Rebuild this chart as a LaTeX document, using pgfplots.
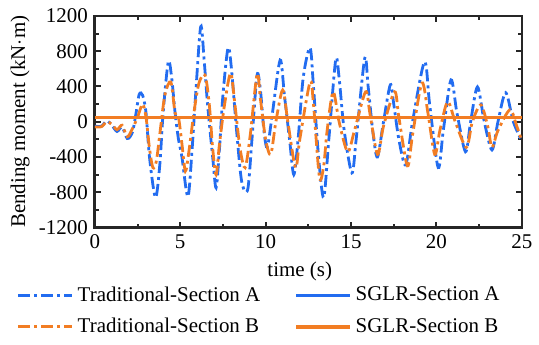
\documentclass[border=0pt]{standalone}
\usepackage{fontspec}
\setmainfont{Liberation Serif}
\usepackage{pgfplots}
\pgfplotsset{compat=1.18}
\usetikzlibrary{calc}
\definecolor{cblue}{RGB}{34,108,240}
\definecolor{corange}{RGB}{242,125,35}
\begin{document}
\begin{tikzpicture}
\begin{axis}[
  name=ax,
  scale only axis,
  width=214pt, height=106pt,
  xmin=0, xmax=25, ymin=-1200, ymax=1200,
  xtick={0,5,...,25}, ytick={-1200,-800,...,1200},
  minor x tick num=1, minor y tick num=1,
  tick align=inside,
  major tick length=3pt, minor tick length=2pt,
  axis line style={line width=1.3pt, black!85},
  every tick/.style={black!85, line width=1pt},
  xticklabel={\rmfamily\fontsize{10.5}{12}\selectfont\pgfmathprintnumber[assume math mode=true,1000 sep={}]{\tick}},
  yticklabel={\rmfamily\fontsize{10.5}{12}\selectfont\pgfmathprintnumber[assume math mode=true,1000 sep={}]{\tick}},
  label style={font=\fontsize{10.5}{12}\selectfont},
  xlabel={time (s)},
  ylabel={Bending moment (kN$\cdot$m)},
  xlabel style={at={(axis description cs:0.48,-0.2075)}, anchor=center},
  ylabel style={at={(axis description cs:-0.175,0.5)}, anchor=center},
  legend columns=2,
  transpose legend,
  legend style={draw=none, fill=none, inner sep=0pt, outer sep=0pt,
    at={(axis description cs:-0.182,-0.26)}, anchor=north west, font=\fontsize{10.5}{12}\selectfont,
    /tikz/every even column/.append style={column sep=15pt}, row sep=3pt},
  legend cell align=left,
  legend image code/.code={\draw[#1] (0pt,0pt) -- (27pt,0pt);},
  clip=true,
]
\addplot[cblue, line width=1.4pt, smooth, tension=0.5, dash pattern=on 6pt off 2pt on 1.5pt off 2pt] coordinates {
(0,-50)(0.4,-50)(0.7,10)(1.0,-40)(1.3,-110)(1.6,-60)(1.9,-190)(2.2,-120)(2.4,80)(2.6,310)(2.8,300)(3.0,100)(3.2,-400)(3.55,-860)(3.8,-500)(4.0,100)(4.3,680)(4.5,500)(4.7,100)(4.9,-200)(5.1,-400)(5.45,-850)(5.7,-300)(5.9,300)(6.2,1080)(6.4,700)(6.6,200)(6.9,-400)(7.1,-750)(7.3,-300)(7.5,300)(7.8,840)(8.0,600)(8.3,-100)(8.6,-680)(8.95,-770)(9.2,-200)(9.5,530)(9.7,350)(9.9,-100)(10.1,-290)(10.4,100)(10.85,700)(11.1,300)(11.4,-200)(11.65,-600)(11.9,-200)(12.2,500)(12.6,840)(12.8,400)(13.1,-400)(13.4,-860)(13.7,-200)(14.1,700)(14.3,500)(14.6,-100)(15.05,-580)(15.3,-200)(15.8,720)(16.0,400)(16.3,-150)(16.55,-400)(16.9,0)(17.3,420)(17.5,200)(17.8,-200)(18.2,-490)(18.6,0)(19.3,680)(19.6,200)(20.1,-520)(20.4,-100)(20.85,475)(21.2,100)(21.7,-340)(22.0,0)(22.4,395)(22.8,0)(23.25,-320)(23.6,0)(24.05,330)(24.5,0)(25,-225)
};
\addlegendentry{Traditional-Section A}
\addplot[corange, line width=1.4pt, smooth, tension=0.5, dash pattern=on 6pt off 2pt on 1.5pt off 2pt] coordinates {
(0,-60)(0.4,-55)(0.7,0)(1.0,-30)(1.3,-90)(1.6,-40)(1.9,-170)(2.2,-80)(2.5,50)(2.8,200)(3.0,50)(3.2,-300)(3.4,-520)(3.6,-450)(3.8,-150)(4.1,300)(4.45,450)(4.7,100)(4.9,50)(5.1,-250)(5.3,-560)(5.5,-350)(5.8,100)(6.1,440)(6.45,530)(6.7,200)(6.9,-300)(7.1,-600)(7.3,-250)(7.6,200)(7.95,550)(8.2,200)(8.5,-300)(8.8,-520)(9.1,-150)(9.5,540)(9.7,250)(10.0,-200)(10.3,-370)(10.6,0)(11.0,360)(11.3,0)(11.75,-520)(12.0,-200)(12.6,450)(12.8,200)(13.15,-630)(13.4,-500)(13.6,-100)(13.95,340)(14.3,0)(14.8,-340)(15.2,-100)(15.85,340)(16.1,100)(16.55,-370)(16.9,-50)(17.55,340)(17.8,50)(18.3,-500)(18.6,-150)(19.15,440)(19.5,100)(19.9,-370)(20.2,-100)(20.65,225)(21.1,0)(21.75,-290)(22.1,0)(22.6,190)(23.0,-50)(23.25,-290)(23.6,-100)(24.3,135)(24.7,-50)(25,-220)
};
\addlegendentry{Traditional-Section B}
\addplot[cblue, line width=1.6pt] coordinates {(0,50)(25,50)};
\addlegendentry{SGLR-Section A}
\addplot[corange, line width=1.8pt] coordinates {(0,50)(25,50)};
\addlegendentry{SGLR-Section B}
\end{axis}
\path ($(ax.south west)+(-47.5pt,-58.5pt)$) rectangle ($(ax.south west)+(222pt,114pt)$);
\end{tikzpicture}
\end{document}
